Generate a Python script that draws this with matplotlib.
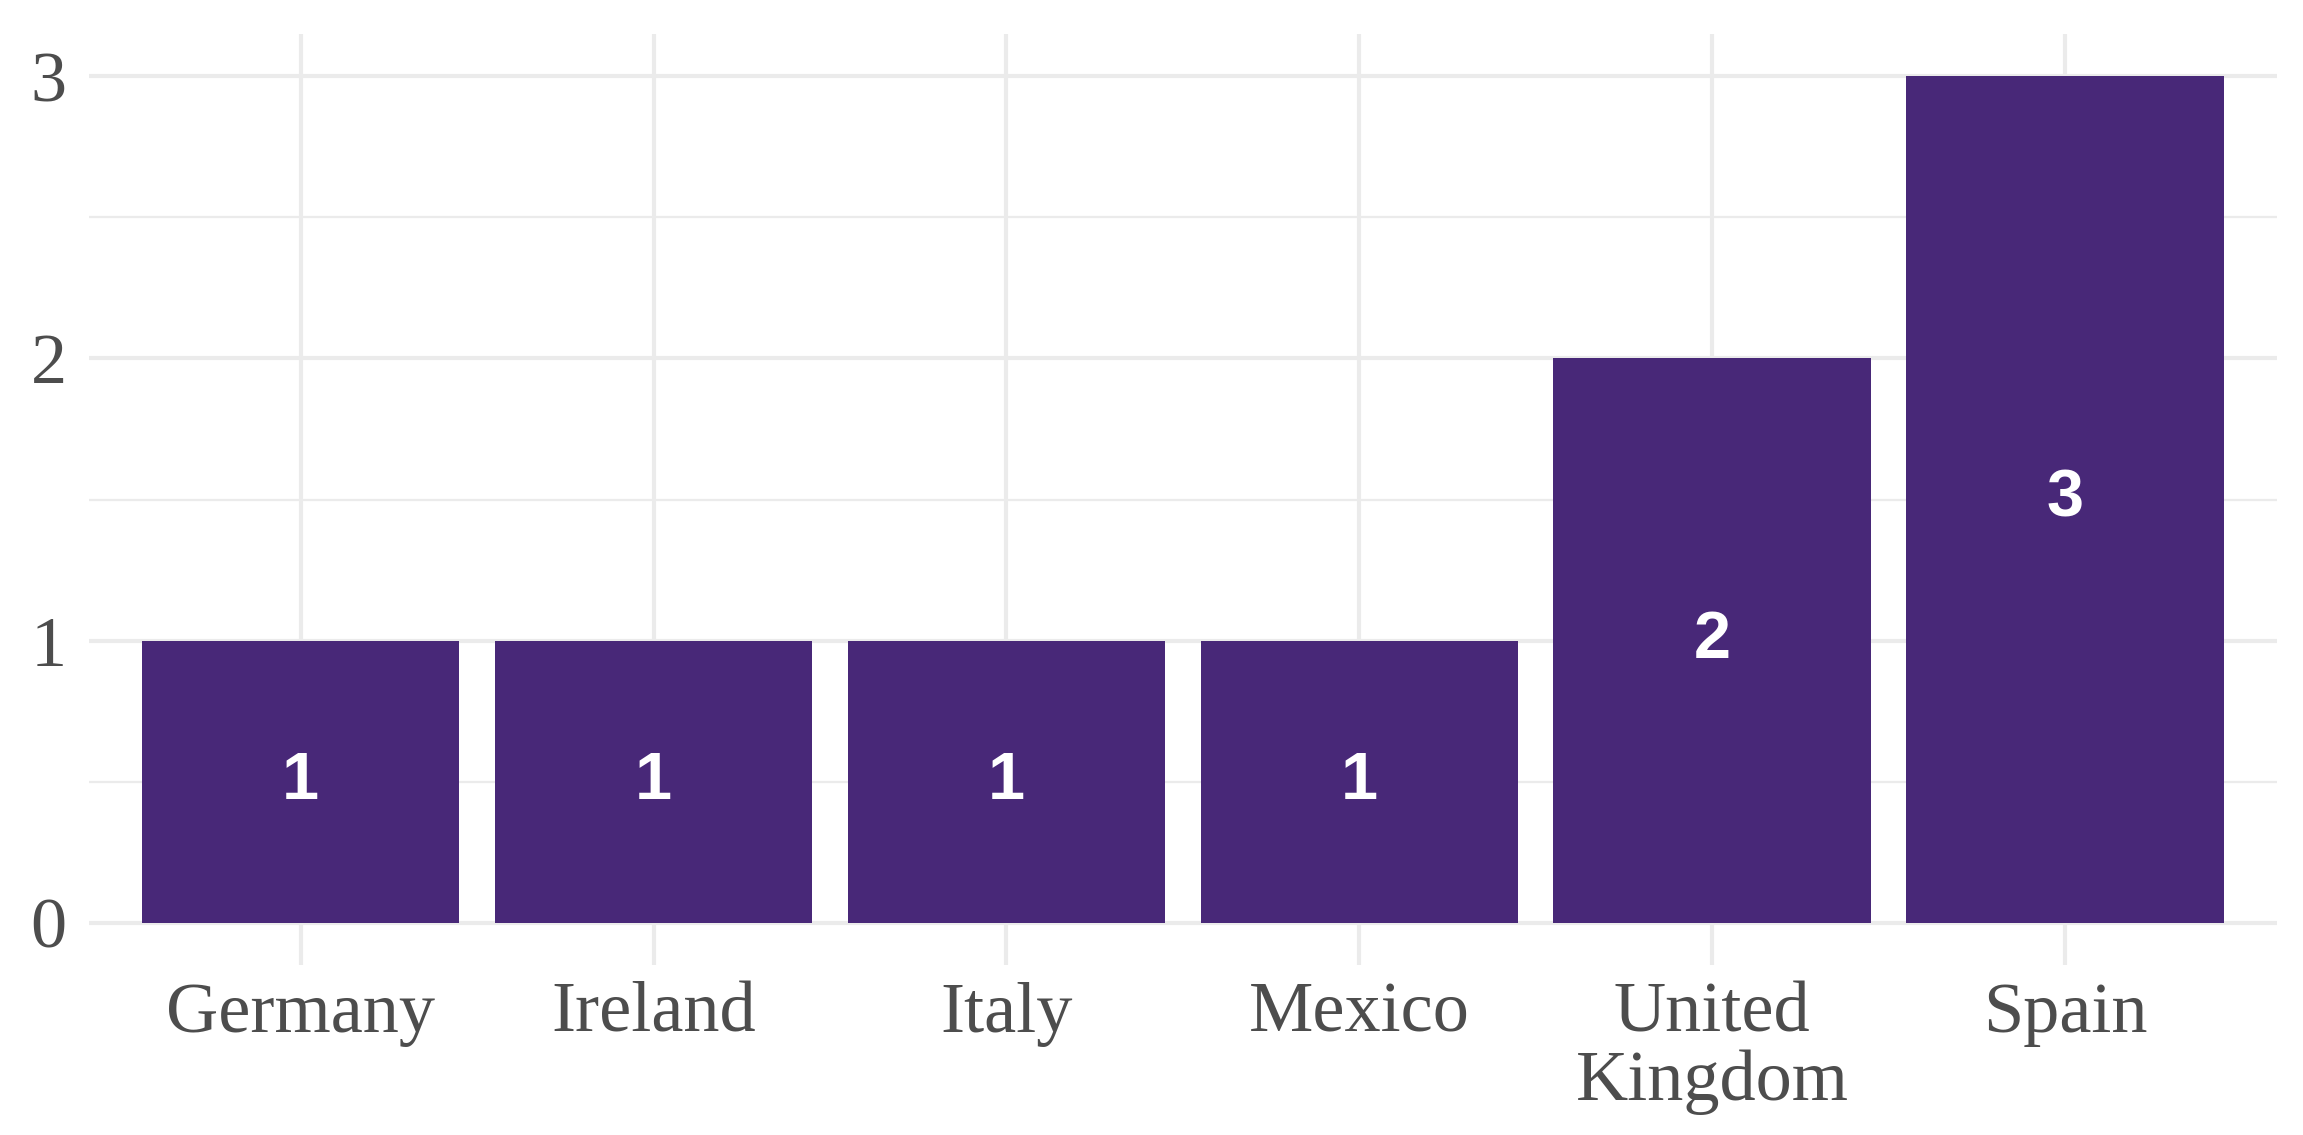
import matplotlib.pyplot as plt
from matplotlib.ticker import MultipleLocator

countries = ["Germany", "Ireland", "Italy", "Mexico", "United\nKingdom", "Spain"]
counts = [1, 1, 1, 1, 2, 3]
y_ticks = [0, 1, 2, 3]

BAR_COLOR = "#482878"
GRID_COLOR = "#EBEBEB"
TEXT_COLOR = "#4D4D4D"

fig = plt.figure(figsize=(11.515, 5.675), dpi=200)
ax = fig.add_axes([0.0386, 0.1498, 0.9501, 0.8202])

x = list(range(1, len(countries) + 1))
ax.bar(x, counts, width=0.9, color=BAR_COLOR, zorder=3)

for xi, v in zip(x, counts):
    ax.text(xi, v / 2, str(v), ha="center", va="center", color="white",
            fontsize=24, fontweight="bold", family="Liberation Sans", zorder=4)

ax.set_xlim(0.4, 6.6)
ax.set_ylim(-0.15, 3.15)
ax.set_xticks(x)
ax.set_xticklabels(countries)
ax.set_yticks(y_ticks)
ax.yaxis.set_minor_locator(MultipleLocator(0.5))

ax.grid(True, which="major", color=GRID_COLOR, linewidth=1.5, zorder=0)
ax.grid(True, which="minor", axis="y", color=GRID_COLOR, linewidth=0.8, zorder=0)
ax.set_axisbelow(True)

for s in ax.spines.values():
    s.set_visible(False)

ax.tick_params(axis="both", which="both", length=0, colors=TEXT_COLOR,
               labelsize=26)
ax.tick_params(axis="x", pad=6)
ax.tick_params(axis="y", pad=8)
for lab in ax.get_xticklabels() + ax.get_yticklabels():
    lab.set_family("Liberation Serif")
    lab.set_linespacing(1.05)

fig.savefig("out.png", dpi=200, facecolor="white")
